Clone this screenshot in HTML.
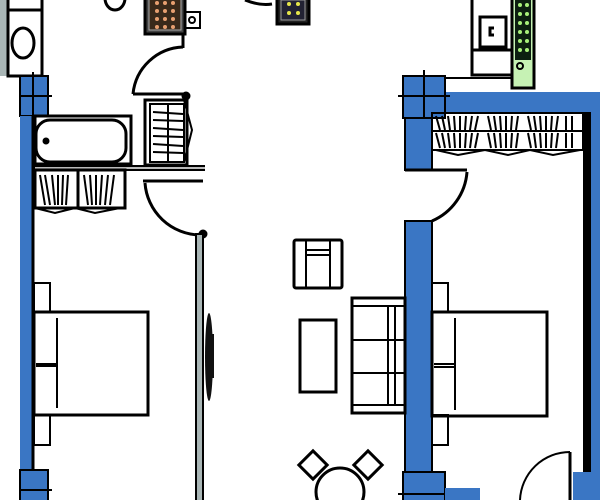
<!DOCTYPE html>
<html><head><style>html,body{margin:0;padding:0;background:#fff}svg{display:block}</style></head>
<body>
<svg width="600" height="500" viewBox="0 0 600 500" xmlns="http://www.w3.org/2000/svg" fill="none" stroke="#000" stroke-width="3">
<!-- left bathroom top -->
<rect x="0" y="0" width="7" height="76" fill="#a9b6b6" stroke="none"/>
<rect x="8" y="-2" width="34" height="78" fill="#fff"/>
<line x1="8" y1="10" x2="42" y2="10"/>
<ellipse cx="23" cy="43" rx="11" ry="15"/>
<ellipse cx="115" cy="-2" rx="10" ry="12"/>
<!-- stove -->
<rect x="145" y="-2" width="40" height="36" fill="#444"/>
<rect x="149" y="-2" width="32" height="32" fill="#3a2a1a" stroke="#aaa" stroke-width="1"/>
<g fill="#e8a070" stroke="none">
<circle cx="157" cy="3" r="2"/><circle cx="165" cy="3" r="2"/><circle cx="173" cy="3" r="2"/>
<circle cx="157" cy="11" r="2"/><circle cx="165" cy="11" r="2"/><circle cx="173" cy="11" r="2"/>
<circle cx="157" cy="19" r="2"/><circle cx="165" cy="19" r="2"/><circle cx="173" cy="19" r="2"/>
<circle cx="157" cy="27" r="2"/><circle cx="165" cy="27" r="2"/><circle cx="173" cy="27" r="2"/>
</g>
<rect x="185" y="12" width="15" height="16" stroke-width="2"/>
<circle cx="192" cy="20" r="3" stroke-width="2"/>
<line x1="183" y1="34" x2="183" y2="48"/>
<!-- top middle item -->
<path d="M245 0 Q260 6 272 4" />
<rect x="277" y="-2" width="32" height="26" fill="#222"/>
<rect x="281" y="0" width="24" height="20" fill="#223" stroke="#999" stroke-width="1"/>
<g fill="#e6e64a" stroke="none"><circle cx="289" cy="4" r="2"/><circle cx="298" cy="4" r="2"/><circle cx="289" cy="13" r="2"/><circle cx="298" cy="13" r="2"/></g>
<!-- left blue wall -->
<rect x="20" y="76" width="28" height="40" fill="#3a76c4" stroke="#000" stroke-width="2"/>
<line x1="20" y1="96" x2="52" y2="96" stroke-width="2"/><line x1="33" y1="72" x2="33" y2="118" stroke-width="2"/>
<rect x="20" y="116" width="13" height="384" fill="#3a76c4" stroke="none"/>
<line x1="33" y1="116" x2="33" y2="500"/>
<rect x="20" y="470" width="28" height="32" fill="#3a76c4" stroke="#000" stroke-width="2"/>
<line x1="20" y1="490" x2="52" y2="490" stroke-width="2"/>
<!-- bathtub -->
<rect x="35" y="116" width="96" height="48"/>
<rect x="36" y="120" width="90" height="42" rx="14"/>
<circle cx="46" cy="141" r="2" fill="#000"/>
<!-- left wardrobe -->
<line x1="33" y1="168" x2="205" y2="168" stroke-width="6"/>
<line x1="35" y1="168" x2="205" y2="168" stroke="#bbb" stroke-width="2"/>
<rect x="35" y="170" width="90" height="38"/>
<line x1="78" y1="170" x2="78" y2="208"/>
<g stroke-width="2">
<path d="M40 175 L45 205 M45 175 L50 205 M52 175 L55 205 M58 175 L58 205 M63 175 L62 205 M68 175 L66 205 M84 175 L88 205 M90 175 L92 205 M96 175 L96 205 M102 175 L100 205 M108 175 L105 205 M114 175 L110 205"/>
<path d="M35 208 L55 213 L75 208 L95 213 L120 208"/>
</g>
<!-- small closet -->
<rect x="145" y="100" width="42" height="65"/>
<rect x="150" y="104" width="34" height="58" stroke-width="2"/>
<line x1="168" y1="104" x2="168" y2="162" stroke-width="2"/>
<g stroke-width="2"><path d="M153 112 L183 114 M153 120 L183 121 M153 128 L183 130 M153 136 L183 137 M153 144 L183 146 M153 152 L183 153"/>
<path d="M184 100 L192 130 L184 162"/></g>
<!-- doors left -->
<line x1="133" y1="94" x2="187" y2="94"/>
<path d="M133 94 A52 52 0 0 1 183 47"/>
<circle cx="186" cy="96" r="3" fill="#000"/>
<line x1="143" y1="181" x2="203" y2="181"/>
<path d="M145 183 A56 56 0 0 0 200 235"/>
<circle cx="203" cy="234" r="3" fill="#000"/>
<!-- corridor wall -->
<rect x="196" y="234" width="7" height="270" fill="#a9b6b6" stroke-width="2"/>
<ellipse cx="209" cy="357" rx="4" ry="44" fill="#111" stroke="none"/>
<rect x="206" y="334" width="8" height="44" fill="#111" stroke="none"/>
<!-- left bed -->
<rect x="34" y="283" width="16" height="29" stroke-width="2"/>
<rect x="34" y="415" width="16" height="30" stroke-width="2"/>
<rect x="34" y="312" width="114" height="103"/>
<line x1="57" y1="318" x2="57" y2="408" stroke-width="2"/>
<line x1="36" y1="364" x2="57" y2="364" stroke-width="2"/>
<line x1="36" y1="366" x2="57" y2="366" stroke-width="2"/>
<!-- right kitchen -->
<rect x="472" y="-2" width="42" height="77" fill="#fff"/>
<line x1="472" y1="50" x2="514" y2="50"/>
<rect x="480" y="17" width="26" height="30"/>
<path d="M494 28 L490 28 L490 35 L494 35" />
<rect x="512" y="-2" width="22" height="90" fill="#c6f2b4"/>
<rect x="515" y="-2" width="16" height="62" fill="#0c1f10" stroke="none"/>
<g fill="#a8f07a" stroke="none">
<circle cx="520" cy="5" r="2"/><circle cx="527" cy="5" r="2"/><circle cx="520" cy="14" r="2"/><circle cx="527" cy="14" r="2"/>
<circle cx="520" cy="23" r="2"/><circle cx="527" cy="23" r="2"/><circle cx="520" cy="32" r="2"/><circle cx="527" cy="32" r="2"/>
<circle cx="520" cy="41" r="2"/><circle cx="527" cy="41" r="2"/><circle cx="520" cy="50" r="2"/><circle cx="527" cy="50" r="2"/></g>
<circle cx="520" cy="66" r="3" stroke-width="2"/>
<line x1="445" y1="78" x2="512" y2="78" stroke-width="2"/>
<!-- right blue walls -->
<rect x="445" y="92" width="155" height="20" fill="#3a76c4" stroke="none"/>
<rect x="403" y="76" width="42" height="42" fill="#3a76c4" stroke="#000" stroke-width="2"/>
<line x1="398" y1="96" x2="450" y2="96" stroke-width="2"/><line x1="424" y1="70" x2="424" y2="122" stroke-width="2"/>
<rect x="405" y="118" width="27" height="52" fill="#3a76c4" stroke="#000" stroke-width="2"/>
<line x1="405" y1="170" x2="467" y2="170"/>
<path d="M467 172 A58 58 0 0 1 432 221"/>
<rect x="405" y="221" width="27" height="255" fill="#3a76c4" stroke="#000" stroke-width="2"/>
<rect x="403" y="472" width="42" height="30" fill="#3a76c4" stroke="#000" stroke-width="2"/>
<line x1="398" y1="494" x2="450" y2="494" stroke-width="2"/>
<rect x="445" y="488" width="35" height="14" fill="#3a76c4" stroke="none"/>
<rect x="583" y="112" width="8" height="360" fill="#000" stroke="none"/>
<rect x="591" y="112" width="9" height="390" fill="#3a76c4" stroke="none"/>
<rect x="573" y="472" width="18" height="30" fill="#3a76c4" stroke="none"/>
<!-- right wardrobe -->
<rect x="432" y="113" width="151" height="37" stroke-width="2"/>
<line x1="432" y1="131" x2="583" y2="131" stroke-width="2"/>
<g stroke-width="2"><path d="M436 116 L440 130 M442 116 L445 130 M448 116 L450 130 M454 116 L455 130 M460 116 L460 130 M466 116 L465 130 M472 116 L470 130 M478 116 L475 130 M488 116 L491 130 M494 116 L496 130 M500 116 L501 130 M506 116 L506 130 M512 116 L511 130 M518 116 L516 130 M528 116 L531 130 M534 116 L536 130 M540 116 L541 130 M546 116 L546 130 M552 116 L551 130 M558 116 L556 130 M566 116 L566 130 M572 116 L572 130"/>
<path d="M436 133 L440 148 M442 133 L445 148 M448 133 L450 148 M454 133 L455 148 M460 133 L460 148 M466 133 L465 148 M472 133 L470 148 M478 133 L475 148 M488 133 L491 148 M494 133 L496 148 M500 133 L501 148 M506 133 L506 148 M512 133 L511 148 M518 133 L516 148 M528 133 L531 148 M534 133 L536 148 M540 133 L541 148 M546 133 L546 148 M552 133 L551 148 M558 133 L556 148 M566 133 L566 148 M572 133 L572 148"/>
<path d="M436 150 L458 155 L485 150 L508 155 L530 150 L553 155 L580 150"/></g>
<!-- right bed -->
<rect x="432" y="283" width="16" height="29" stroke-width="2"/>
<rect x="432" y="415" width="16" height="30" stroke-width="2"/>
<rect x="432" y="312" width="115" height="104"/>
<line x1="455" y1="318" x2="455" y2="410" stroke-width="2"/>
<line x1="434" y1="364" x2="455" y2="364" stroke-width="2"/>
<line x1="434" y1="367" x2="455" y2="367" stroke-width="2"/>
<!-- bottom right door -->
<line x1="570" y1="452" x2="570" y2="500"/>
<path d="M520 500 A50 50 0 0 1 570 452" stroke-width="2"/>
<!-- living -->
<rect x="294" y="240" width="48" height="48" rx="2"/>
<line x1="306" y1="240" x2="306" y2="288" stroke-width="2"/><line x1="330" y1="240" x2="330" y2="288" stroke-width="2"/>
<line x1="306" y1="250" x2="330" y2="250" stroke-width="2"/><line x1="306" y1="255" x2="330" y2="255" stroke-width="2"/>
<rect x="300" y="320" width="36" height="72"/>
<rect x="352" y="298" width="53" height="115"/>
<line x1="352" y1="306" x2="405" y2="306" stroke-width="2"/><line x1="352" y1="405" x2="405" y2="405" stroke-width="2"/>
<line x1="352" y1="340" x2="405" y2="340" stroke-width="2"/><line x1="352" y1="373" x2="405" y2="373" stroke-width="2"/>
<line x1="388" y1="306" x2="388" y2="405" stroke-width="2"/><line x1="395" y1="306" x2="395" y2="405" stroke-width="2"/>
<!-- dining -->
<circle cx="340" cy="492" r="24"/>
<rect x="303" y="455" width="20" height="20" transform="rotate(45 313 465)"/>
<rect x="358" y="455" width="20" height="20" transform="rotate(45 368 465)"/>
</svg>
</body></html>
